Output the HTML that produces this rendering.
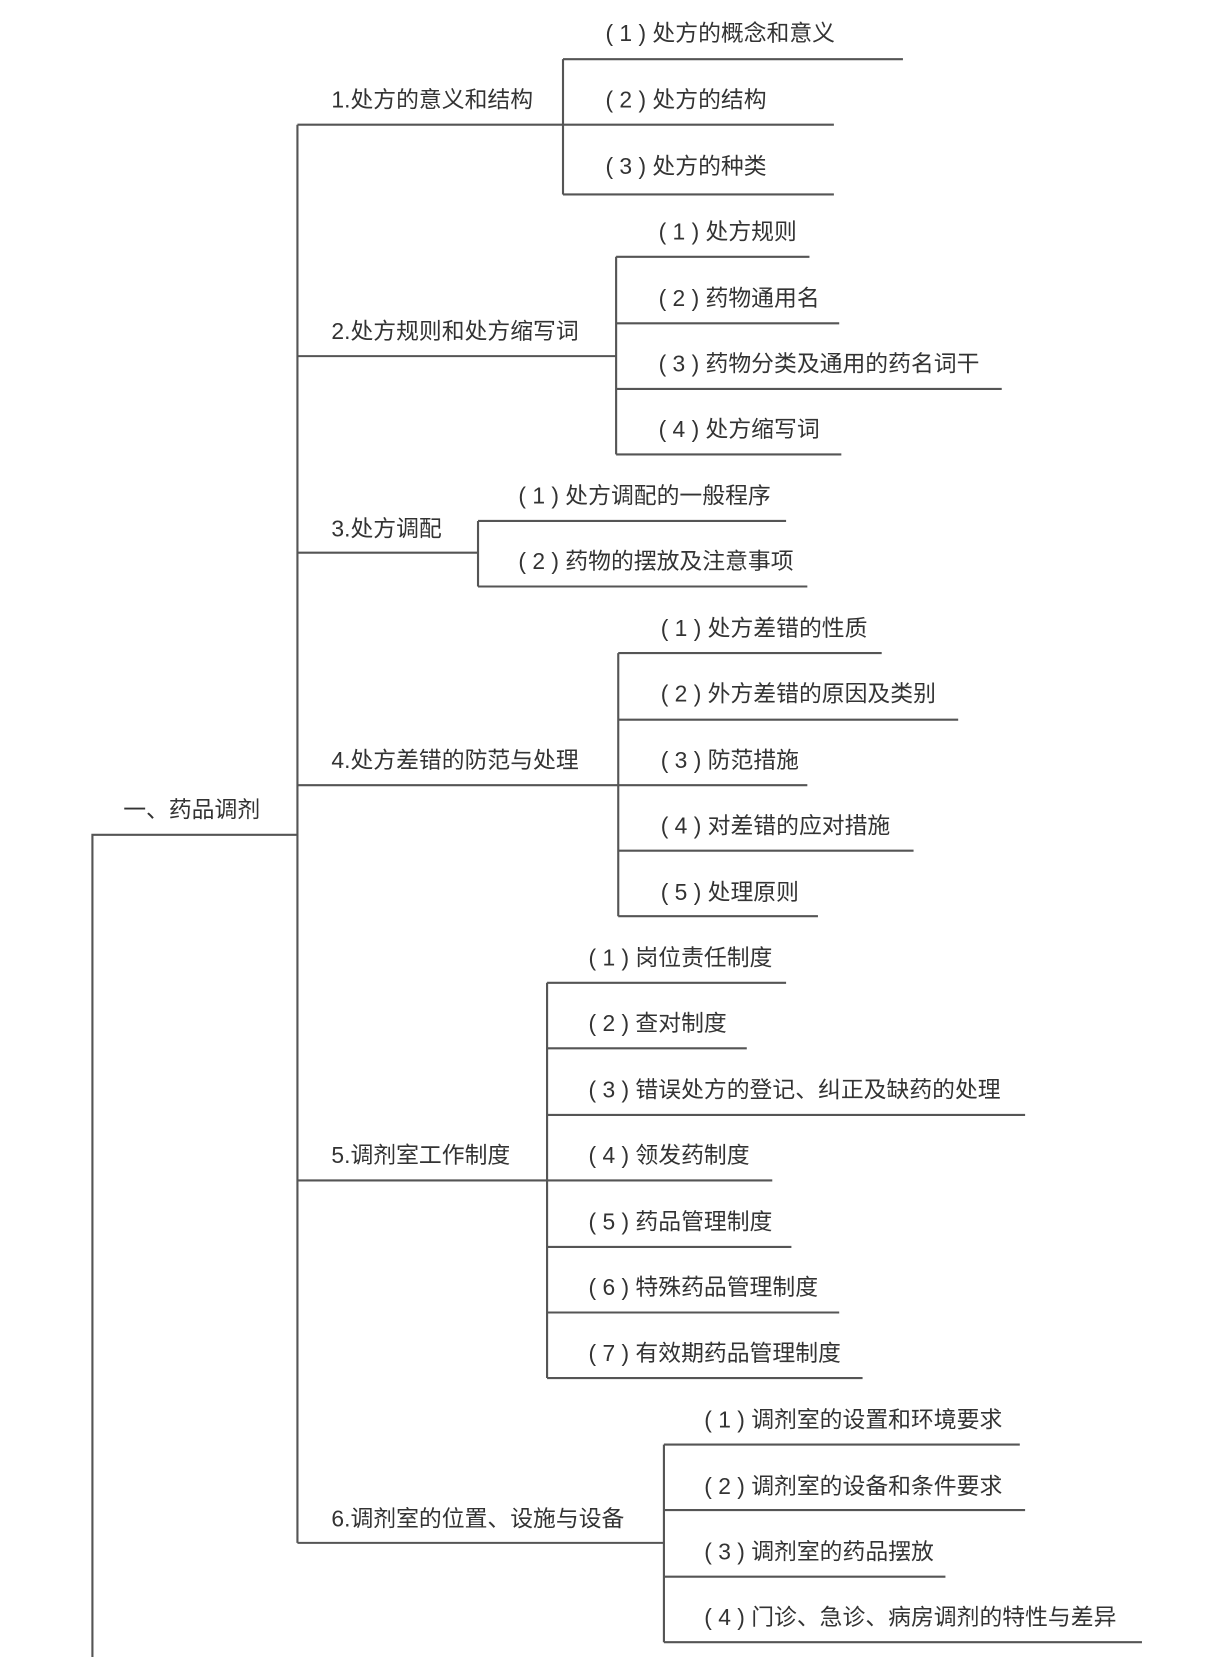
<!DOCTYPE html>
<html><head><meta charset="utf-8"><style>
html,body{margin:0;padding:0;background:#fff;}
svg{display:block;}
text{font-family:"Liberation Sans","Noto Sans CJK SC",sans-serif;font-size:21.5px;fill:#333;dominant-baseline:middle;}
</style></head><body>
<svg width="1211" height="1657" viewBox="0 0 1140 1568" preserveAspectRatio="none" xmlns="http://www.w3.org/2000/svg">
<g stroke="#555" stroke-width="2" fill="none">
<path d="M87 1568V790H280"/>
<path d="M280 118V1460"/>
<path d="M280 118H530M530 56V184M530 56H850M530 118H785M530 184H785"/>
<path d="M280 337H580M580 243V430M580 243H762M580 306H790M580 368H943M580 430H792"/>
<path d="M280 523H450M450 493V555M450 493H740M450 555H760"/>
<path d="M280 743H582M582 618V867M582 618H830M582 681H902M582 743H760M582 805H860M582 867H770"/>
<path d="M280 1117H515M515 930V1304M515 930H740M515 992H703M515 1055H965M515 1117H727M515 1180H745M515 1242H790M515 1304H812"/>
<path d="M280 1460H625M625 1367V1554M625 1367H960M625 1429H965M625 1492H890M625 1554H1075"/>
</g>
<g transform="translate(0,2)">
<text x="116" y="766">一、药品调剂</text>
<text x="312" y="94">1.处方的意义和结构</text>
<text x="570" y="31">( 1 ) 处方的概念和意义</text>
<text x="570" y="94">( 2 ) 处方的结构</text>
<text x="570" y="157">( 3 ) 处方的种类</text>
<text x="312" y="313">2.处方规则和处方缩写词</text>
<text x="620" y="219">( 1 ) 处方规则</text>
<text x="620" y="282">( 2 ) 药物通用名</text>
<text x="620" y="344">( 3 ) 药物分类及通用的药名词干</text>
<text x="620" y="406">( 4 ) 处方缩写词</text>
<text x="312" y="500">3.处方调配</text>
<text x="488" y="469">( 1 ) 处方调配的一般程序</text>
<text x="488" y="531">( 2 ) 药物的摆放及注意事项</text>
<text x="312" y="719">4.处方差错的防范与处理</text>
<text x="622" y="594">( 1 ) 处方差错的性质</text>
<text x="622" y="656">( 2 ) 外方差错的原因及类别</text>
<text x="622" y="719">( 3 ) 防范措施</text>
<text x="622" y="781">( 4 ) 对差错的应对措施</text>
<text x="622" y="844">( 5 ) 处理原则</text>
<text x="312" y="1093">5.调剂室工作制度</text>
<text x="554" y="906">( 1 ) 岗位责任制度</text>
<text x="554" y="968">( 2 ) 查对制度</text>
<text x="554" y="1031">( 3 ) 错误处方的登记、纠正及缺药的处理</text>
<text x="554" y="1093">( 4 ) 领发药制度</text>
<text x="554" y="1156">( 5 ) 药品管理制度</text>
<text x="554" y="1218">( 6 ) 特殊药品管理制度</text>
<text x="554" y="1280">( 7 ) 有效期药品管理制度</text>
<text x="312" y="1437">6.调剂室的位置、设施与设备</text>
<text x="663" y="1343">( 1 ) 调剂室的设置和环境要求</text>
<text x="663" y="1406">( 2 ) 调剂室的设备和条件要求</text>
<text x="663" y="1468">( 3 ) 调剂室的药品摆放</text>
<text x="663" y="1530">( 4 ) 门诊、急诊、病房调剂的特性与差异</text>
</g>
</svg>
</body></html>
